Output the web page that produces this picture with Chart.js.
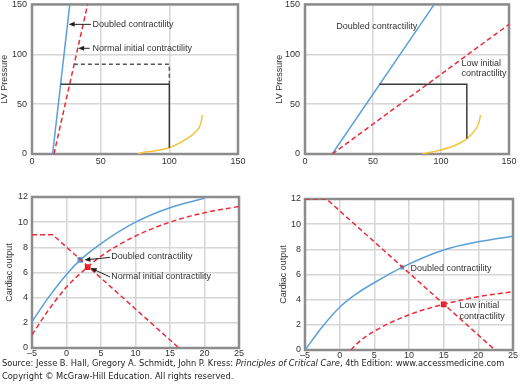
<!DOCTYPE html>
<html>
<head>
<meta charset="utf-8">
<script src="https://cdn.jsdelivr.net/npm/chart.js@4/dist/chart.umd.min.js"></script>
<style>
  body { margin: 0; background: #fff; width: 520px; height: 386px; position: relative; overflow: hidden; }
  canvas { position: absolute; }
  .foot { position: absolute; left: 2px; font-family: "DejaVu Sans", Verdana, sans-serif; font-size: 8.3px; line-height: 10px; color: #222; white-space: nowrap; }
</style>
</head>
<body>
<canvas id="c1"></canvas>
<canvas id="c2"></canvas>
<canvas id="c3"></canvas>
<canvas id="c4"></canvas>
<div class="foot" style="top:358px">Source: Jesse B. Hall, Gregory A. Schmidt, John P. Kress: <i>Principles of Critical Care</i>, 4th Edition: www.accessmedicine.com</div>
<div class="foot" style="top:371px">Copyright © McGraw-Hill Education. All rights reserved.</div>
<script>
// ---- data ----
// pressure-volume panels (x = LV volume, y = LV pressure)
const pvTicks = [0, 50, 100, 150];
const p1Doubled = [[15, 0], [27.5, 150]];
const p1Normal = [[16, 0], [40.5, 150]];
const p1Edpvr = [[77, 0], [80, 1.3], [90, 3.3], [100, 6.3], [111, 14], [119, 22], [123, 31], [124, 39]];
const p1Loop = [[20.8, 70], [100, 70], [100, 6.3]];
const p1LoopOld = [[30.5, 90], [100, 90], [100, 70]];

const p2Doubled = [[20, 0], [95, 150]];
const p2Low = [[20, 0], [150, 130]];
const p2Edpvr = [[86, 0], [95, 2.5], [100, 4], [110, 8.5], [119, 15.5], [125, 24], [128, 32], [129, 39]];
const p2Loop = [[54.8, 70], [119, 70], [119, 15.5]];

// cardiac output panels (x = right atrial pressure, y = cardiac output)
const coXTicks = [-5, 0, 5, 10, 15, 20, 25];
const coYTicks = [0, 2, 4, 6, 8, 10, 12];
const p3Doubled = [[-5, 2.1], [-2.5, 4.1], [0, 5.85], [2, 7.0], [5, 8.3], [10, 10.0], [15, 11.15], [20, 11.9]];
const p3Normal = [[-5, 1.05], [-2.5, 3.1], [0, 4.85], [3, 6.4], [5, 7.3], [10, 8.9], [15, 10.0], [20, 10.75], [25, 11.25]];
const p3Venous = [[-5, 9], [-2, 9], [16.3, 0]];
const p3Pts = [[2, 7.0], [3.07, 6.42]];

const p4Doubled = [[-5, 0], [-2.5, 1.85], [0, 3.4], [2.5, 4.5], [5, 5.35], [9, 6.57], [15, 7.95], [20, 8.6], [25, 9.05]];
const p4Low = [[1.6, 0], [3, 0.75], [5, 1.5], [10, 2.8], [15, 3.63], [20, 4.24], [25, 4.63]];
const p4Venous = [[-5, 12], [-1.9, 12], [22.4, 0]];
const p4Pts = [[9, 6.57], [15, 3.63]];

const BLUE = '#5b9fd8', RED = '#ec2a3a', GOLD = '#f6c23a', DARK = '#3a3a3a';
const FONT = 'Liberation Sans, Arial, sans-serif';

const pts = a => a.map(p => ({x: p[0], y: p[1]}));

function line(data, color, opts) {
  return Object.assign({
    data: pts(data), showLine: true, borderColor: color, backgroundColor: color,
    borderWidth: 1.5, pointRadius: 0, tension: 0, fill: false
  }, opts || {});
}
const smooth = {cubicInterpolationMode: 'monotone'};

// frame under the lines, then text notes + arrows on top
const extras = {
  id: 'extras',
  beforeDatasetsDraw(chart) {
    const {ctx, chartArea: a} = chart;
    ctx.save();
    ctx.strokeStyle = '#8c8c8c';
    ctx.lineWidth = 2.5;
    ctx.strokeRect(a.left, a.top, a.right - a.left, a.bottom - a.top);
    ctx.restore();
  },
  afterDatasetsDraw(chart, args, o) {
    const {ctx, scales: {x, y}} = chart;
    ctx.save();
    ctx.fillStyle = '#333';
    ctx.font = '9px ' + FONT;
    ctx.textBaseline = 'middle';
    (o.notes || []).forEach(n => {
      ctx.fillText(n[0], x.getPixelForValue(n[1]), y.getPixelForValue(n[2]));
    });

    ctx.strokeStyle = '#222';
    ctx.fillStyle = '#222';
    ctx.lineWidth = 1;
    (o.arrows || []).forEach(ar => {
      const x0 = x.getPixelForValue(ar[0]), y0 = y.getPixelForValue(ar[1]);
      const x1 = x.getPixelForValue(ar[2]), y1 = y.getPixelForValue(ar[3]);
      const ang = Math.atan2(y1 - y0, x1 - x0);
      ctx.beginPath();
      ctx.moveTo(x0, y0);
      ctx.lineTo(x1 - 4 * Math.cos(ang), y1 - 4 * Math.sin(ang));
      ctx.stroke();
      ctx.beginPath();
      ctx.moveTo(x1, y1);
      ctx.lineTo(x1 - 6 * Math.cos(ang) + 2.5 * Math.sin(ang), y1 - 6 * Math.sin(ang) - 2.5 * Math.cos(ang));
      ctx.lineTo(x1 - 6 * Math.cos(ang) - 2.5 * Math.sin(ang), y1 - 6 * Math.sin(ang) + 2.5 * Math.cos(ang));
      ctx.closePath();
      ctx.fill();
    });
    ctx.restore();
  }
};

function panel(p) {
  const cv = document.getElementById(p.id);
  const padL = 36, padT = 10, axH = 22;
  cv.width = padL + p.w + p.padR;
  cv.height = padT + p.h + axH;
  cv.style.left = (p.left - padL) + 'px';
  cv.style.top = (p.top - padT) + 'px';

  const tickFont = {family: FONT, size: 9};
  new Chart(cv, {
    type: 'scatter',
    data: {datasets: p.datasets},
    plugins: [extras],
    options: {
      responsive: false,
      animation: false,
      events: [],
      layout: {padding: {top: padT, right: p.padR, left: 0, bottom: 0}},
      plugins: {
        legend: {display: false},
        tooltip: {enabled: false},
        extras: {notes: p.notes, arrows: p.arrows}
      },
      scales: {
        x: {
          type: 'linear', min: p.xTicks[0], max: p.xTicks[p.xTicks.length - 1],
          afterBuildTicks: s => { s.ticks = p.xTicks.map(v => ({value: v})); },
          afterFit: s => { s.height = axH; },
          grid: {color: '#d6d6d6', lineWidth: 1.5, drawTicks: false},
          border: {display: false},
          ticks: {font: tickFont, color: '#333', padding: p.xGap,
                  callback: v => (v < 0 ? '\u2013' + Math.abs(v) : v)}
        },
        y: {
          type: 'linear', min: p.yTicks[0], max: p.yTicks[p.yTicks.length - 1],
          afterBuildTicks: s => { s.ticks = p.yTicks.map(v => ({value: v})); },
          afterFit: s => { s.width = padL; },
          grid: {color: '#d6d6d6', lineWidth: 1.5, drawTicks: false},
          border: {display: false},
          ticks: {font: tickFont, color: '#333', padding: p.tickGap},
          title: {display: true, text: p.yTitle, color: '#333',
                  font: {family: FONT, size: 9}, padding: {top: p.titlePad, bottom: 0}}
        }
      }
    }
  });
}

// top left: normal vs doubled contractility, PV loops
panel({
  id: 'c1', left: 32, top: 4, w: 206, h: 150, padR: 22, xGap: 2,
  xTicks: pvTicks, yTicks: pvTicks, yTitle: 'LV Pressure', titlePad: 3.6, tickGap: 5,
  datasets: [
    line(p1LoopOld, '#555', {borderDash: [4, 3]}),
    line(p1Loop, DARK),
    line(p1Edpvr, GOLD, smooth),
    line(p1Normal, RED, {borderDash: [5, 3]}),
    line(p1Doubled, BLUE)
  ],
  notes: [['Doubled contractility', 44, 130], ['Normal initial contractility', 44, 106]],
  arrows: [[43, 130, 26.7, 130], [42, 106, 33.6, 106]]
});

// top right: low vs doubled contractility
panel({
  id: 'c2', left: 305, top: 4, w: 204, h: 150, padR: 11, xGap: 2,
  xTicks: pvTicks, yTicks: pvTicks, yTitle: 'LV Pressure', titlePad: 5.6, tickGap: 5,
  datasets: [
    line(p2Loop, DARK),
    line(p2Edpvr, GOLD, smooth),
    line(p2Low, RED, {borderDash: [5, 3]}),
    line(p2Doubled, BLUE)
  ],
  notes: [['Doubled contractility', 23, 128], ['Low initial', 115, 90.5], ['contractility', 115, 80.5]],
  arrows: []
});

// bottom left: cardiac function and venous return curves
panel({
  id: 'c3', left: 32, top: 197, w: 207, h: 151, padR: 21, xGap: 0,
  xTicks: coXTicks, yTicks: coYTicks, yTitle: 'Cardiac output', titlePad: 8.6, tickGap: 4,
  datasets: [
    line(p3Venous, RED, {borderDash: [5, 3]}),
    line(p3Normal, RED, Object.assign({borderDash: [5, 3]}, smooth)),
    line(p3Doubled, BLUE, smooth),
    line([p3Pts[0]], BLUE, {showLine: false, pointRadius: 3, pointStyle: 'rect'}),
    line([p3Pts[1]], '#e41e26', {showLine: false, pointRadius: 3, pointStyle: 'rect'})
  ],
  notes: [['Doubled contractility', 6.5, 7.25], ['Normal initial contractility', 6.5, 5.65]],
  arrows: [[6.3, 7.2, 2.6, 7.0], [6.3, 5.65, 3.5, 6.35]]
});

// bottom right
panel({
  id: 'c4', left: 305, top: 199, w: 208, h: 151, padR: 7, xGap: 0,
  xTicks: coXTicks, yTicks: coYTicks, yTitle: 'Cardiac output', titlePad: 9.6, tickGap: 4,
  datasets: [
    line(p4Venous, RED, {borderDash: [5, 3]}),
    line(p4Low, RED, Object.assign({borderDash: [5, 3]}, smooth)),
    line(p4Doubled, BLUE, smooth),
    line([p4Pts[0]], BLUE, {showLine: false, pointRadius: 2, pointStyle: 'rect'}),
    line([p4Pts[1]], '#e41e26', {showLine: false, pointRadius: 3, pointStyle: 'rect'})
  ],
  notes: [['Doubled contractility', 10.2, 6.5], ['Low initial', 17.3, 3.5], ['contractility', 17.3, 2.65]],
  arrows: []
});
</script>
</body>
</html>
